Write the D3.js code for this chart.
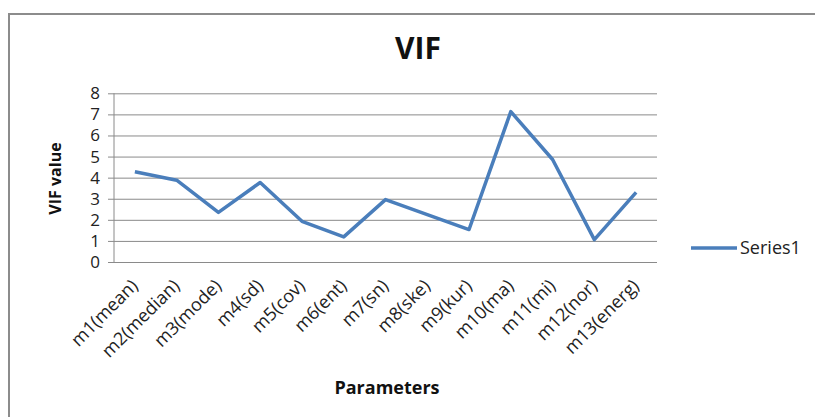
<!DOCTYPE html>
<html><head><meta charset="utf-8">
<script src="https://cdn.jsdelivr.net/npm/d3@7"></script>
<style>body{margin:0;background:#fff}svg{display:block}</style>
</head><body>
<script>
const categories = ["m1(mean)","m2(median)","m3(mode)","m4(sd)","m5(cov)","m6(ent)","m7(sn)","m8(ske)","m9(kur)","m10(ma)","m11(mi)","m12(nor)","m13(energ)"];
const series1 = [4.28,3.88,2.35,3.77,1.93,1.19,2.96,2.25,1.54,7.13,4.86,1.06,3.30];
const yTicks = [0,1,2,3,4,5,6,7,8];
const seriesName = "Series1";
const titleText = "VIF";
const yTitle = "VIF value";
const xTitle = "Parameters";

const W = 815, H = 417;
const m = {left:114, right:W-657, top:93.3, bottom:H-262};
const font = "'Open Sans', sans-serif";
const svg = d3.select("body").append("svg").attr("width",W).attr("height",H);

// chart border (top & left)
svg.append("line").attr("x1",8).attr("x2",W).attr("y1",14).attr("y2",14).attr("stroke","#8c8c8c").attr("stroke-width",2);
svg.append("line").attr("x1",9).attr("x2",9).attr("y1",13).attr("y2",H).attr("stroke","#8c8c8c").attr("stroke-width",2);

const x = d3.scaleBand().domain(categories).range([m.left, W-m.right]);
const y = d3.scaleLinear().domain([0,8]).range([H-m.bottom, m.top]);

// gridlines + y axis
const yAxis = d3.axisLeft(y).tickValues(yTicks).tickSize(-(W-m.right-m.left)).tickPadding(14).tickFormat(d3.format("d"));
const gy = svg.append("g").attr("transform",`translate(${m.left},0)`).call(yAxis);
gy.select(".domain").remove();
gy.selectAll(".tick line").attr("stroke","#8a8a8a").attr("stroke-width",1).attr("x1",-6);
gy.selectAll(".tick text").attr("font-family",font).attr("font-size",17).attr("fill","#222");
svg.append("line").attr("x1",m.left).attr("x2",m.left).attr("y1",y(8)).attr("y2",y(0)).attr("stroke","#8a8a8a");

// x labels
const gx = svg.append("g");
gx.selectAll("text").data(categories).join("text")
  .attr("transform",d=>`translate(${x(d)+x.bandwidth()/2+4},287) rotate(-45)`)
  .attr("text-anchor","end").attr("font-family",font).attr("font-size",18).attr("fill","#222")
  .text(d=>d);

// line
const line = d3.line().x((d,i)=>x(categories[i])+x.bandwidth()/2).y(d=>y(d));
svg.append("path").datum(series1).attr("d",line).attr("fill","none")
  .attr("stroke","#4A7EBB").attr("stroke-width",3.5).attr("stroke-linejoin","round");

// titles
svg.append("text").attr("x",418).attr("y",59).attr("text-anchor","middle")
  .attr("font-family",font).attr("font-weight","bold").attr("font-size",30).attr("fill","#111").text(titleText);
svg.append("text").attr("transform","translate(61,178.5) rotate(-90)").attr("text-anchor","middle")
  .attr("font-family",font).attr("font-weight","bold").attr("font-size",16).attr("fill","#111").text(yTitle);
svg.append("text").attr("x",387).attr("y",394).attr("text-anchor","middle")
  .attr("font-family",font).attr("font-weight","bold").attr("font-size",18).attr("fill","#111").text(xTitle);

// legend
svg.append("line").attr("x1",691).attr("x2",737).attr("y1",248).attr("y2",248).attr("stroke","#4A7EBB").attr("stroke-width",3.5);
svg.append("text").attr("x",740).attr("y",254).attr("font-family",font).attr("font-size",18).attr("fill","#222").text(seriesName);
</script>
</body></html>
